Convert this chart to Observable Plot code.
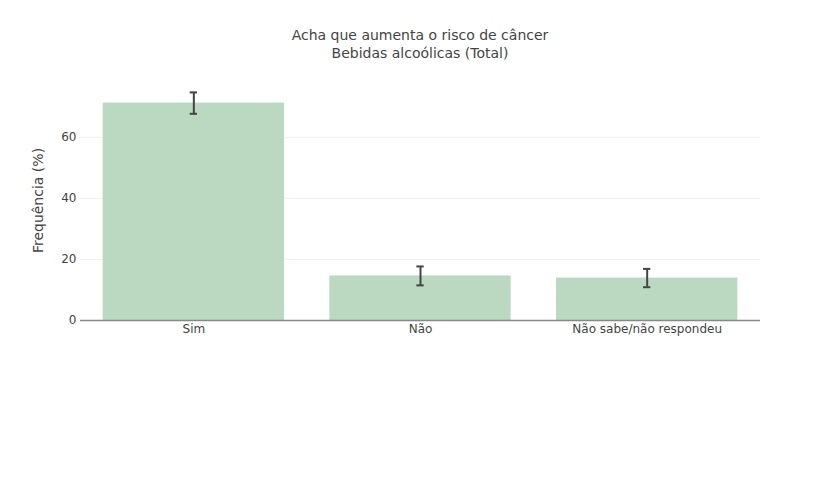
<!DOCTYPE html>
<html><head><meta charset="utf-8">
<script src="https://cdn.jsdelivr.net/npm/d3@7"></script>
<script src="https://cdn.jsdelivr.net/npm/@observablehq/plot@0.6"></script>
<style>
body{margin:0;background:#fff;width:840px;font-family:"DejaVu Sans",sans-serif;}
#title{height:70px;box-sizing:border-box;padding-top:26px;text-align:center;font-size:14px;line-height:18px;color:#444;}
</style></head>
<body>
<div id="title">Acha que aumenta o risco de câncer<br>Bebidas alcoólicas (Total)</div>
<div id="chart"></div>
<script>
const categories = ["Sim", "Não", "Não sabe/não respondeu"];
const values = [71.2, 14.6, 13.9];
const errors = [3.5, 3.1, 3.0];
const yTicks = [0, 20, 40, 60];

const data = categories.map((c, i) => ({cat: c, v: values[i], lo: values[i] - errors[i], hi: values[i] + errors[i]}));

const chart = Plot.plot({
  width: 840, height: 410,
  marginTop: 10, marginBottom: 160, marginLeft: 80, marginRight: 80,
  style: {fontFamily: "'DejaVu Sans', sans-serif", fontSize: "12px", color: "#444", background: "#fff"},
  x: {domain: categories, paddingInner: 0.2, paddingOuter: 0.1, round: false, label: null, tickSize: 0, tickPadding: 4},
  y: {domain: [0, 78.6], ticks: yTicks, label: null, tickSize: 0, tickPadding: 4},
  marks: [
    Plot.gridY(yTicks.filter(t => t > 0), {stroke: "#eee", strokeOpacity: 1, strokeWidth: 1}),
    Plot.barY(data, {x: "cat", y: "v", fill: "#bbd9c1"}),
    Plot.ruleY([0], {stroke: "#888", strokeWidth: 1.5}),
    Plot.ruleX(data, {x: "cat", y1: "lo", y2: "hi", stroke: "#444", strokeWidth: 2}),
    Plot.tickY(data, {x: "cat", y: "lo", stroke: "#444", strokeWidth: 2, insetLeft: 87, insetRight: 87}),
    Plot.tickY(data, {x: "cat", y: "hi", stroke: "#444", strokeWidth: 2, insetLeft: 87, insetRight: 87}),
    Plot.text(["Frequência (%)"], {frameAnchor: "left", textAnchor: "middle", dx: -42, rotate: -90, fontSize: 14, fill: "#444"})
  ]
});
document.getElementById("chart").appendChild(chart);
</script>
</body></html>
